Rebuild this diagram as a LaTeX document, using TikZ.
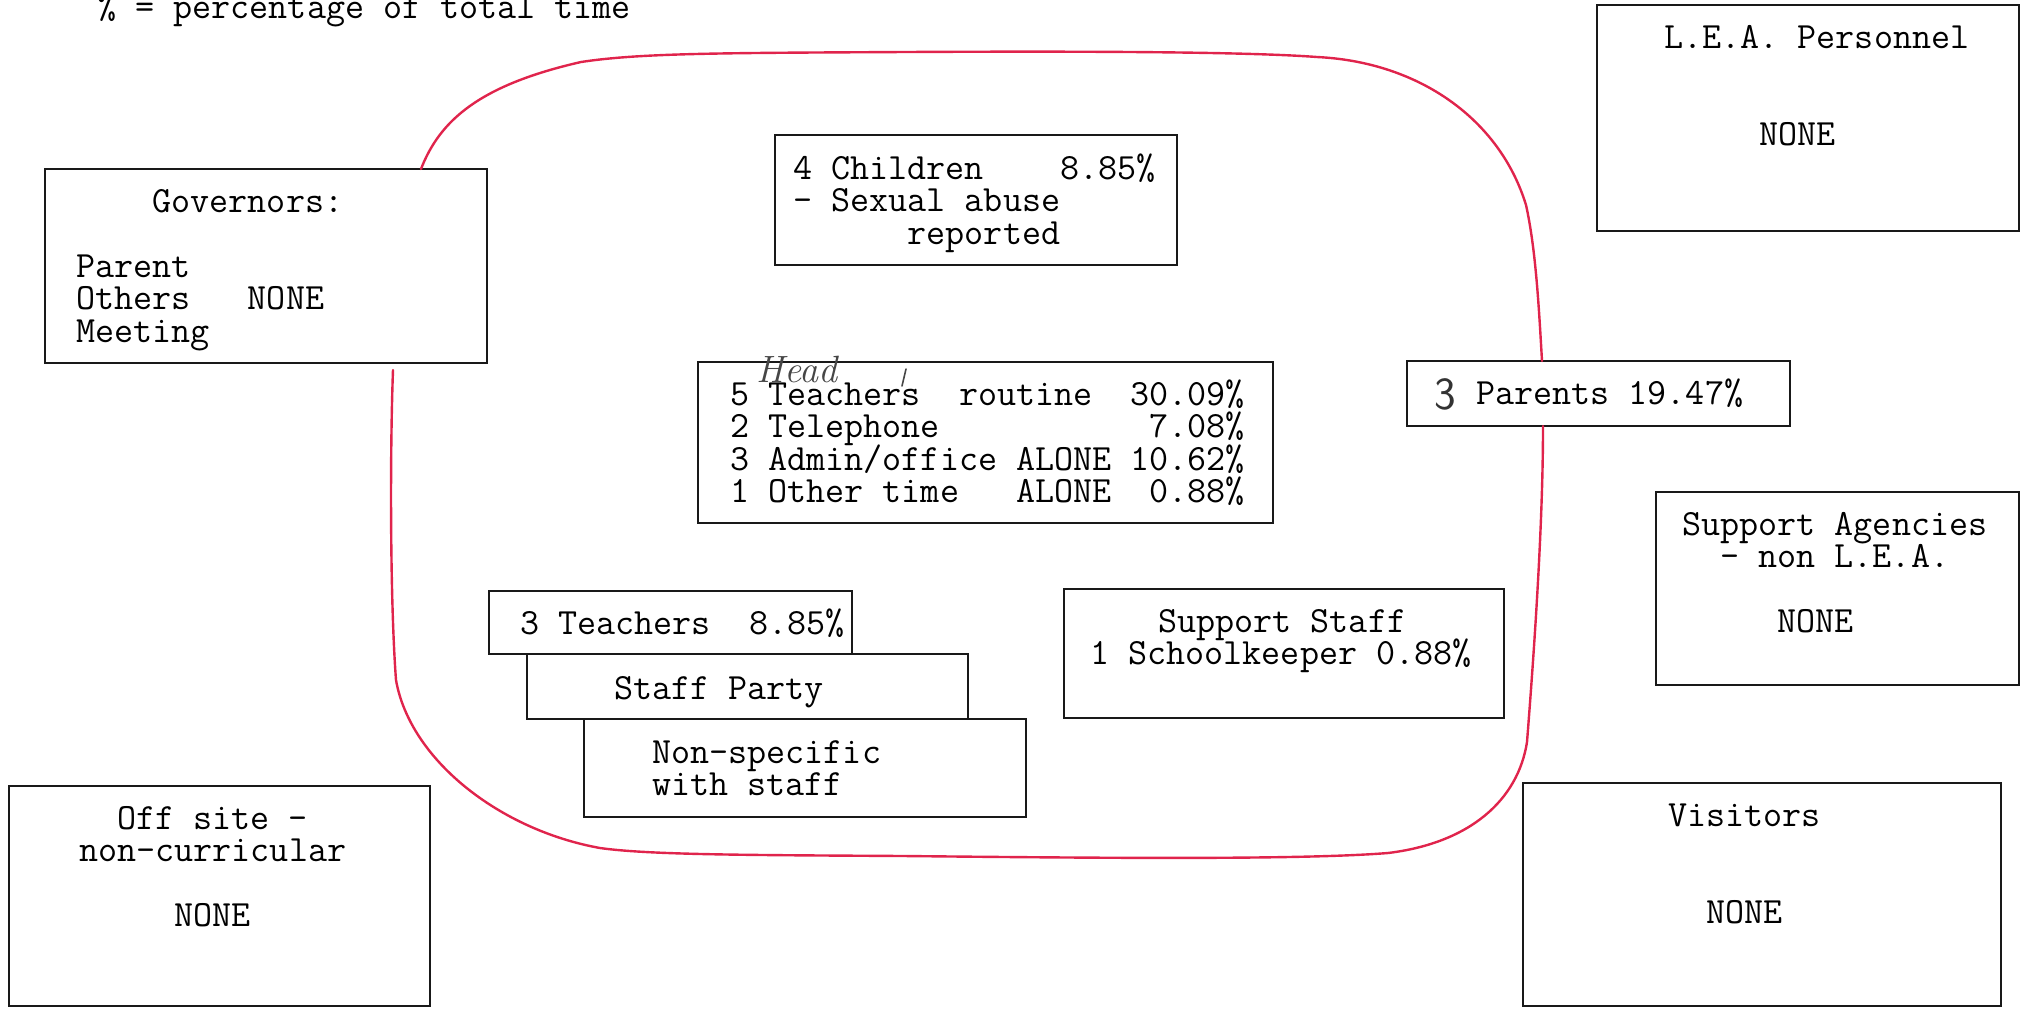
\documentclass[tikz,border=0pt]{standalone}
\usepackage{fontspec}
\usetikzlibrary{fit}
\definecolor{penred}{RGB}{224,36,76}
\definecolor{pencil}{RGB}{70,70,70}
\frenchspacing
% stacked typewriter lines with a fixed line pitch; the baseline is that of the first line
\newcommand\typelines[1]{\vtop{\lineskiplimit=-1000pt\lineskip=0pt\baselineskip=16.25pt #1}}
\begin{document}
\begin{tikzpicture}[x=0.5pt,y=-0.5pt,
  box/.style={draw=black!90, line width=1.2pt, inner sep=0pt},
  txt/.style={inner sep=0pt, anchor=base west, font=\ttfamily\fontsize{18.5}{16.25}\selectfont},
  hand/.style={inner sep=0pt, anchor=base west, text=pencil},
  redloop/.style={draw=penred, line width=1.2pt, line cap=round, line join=round}
]
\useasboundingbox (0,0) rectangle (2024,1009);

% key line
\node[txt] (key) at (97,18) {\% = percentage of total time};

% ---- boxes ----
\node[box, fit={(1597,5) (2019,231)}]    (lea) {};
\node[box, fit={(45,169) (487,363)}]     (gov) {};
\node[box, fit={(775,135) (1177,265)}]   (child) {};
\node[box, fit={(698,362) (1273,523)}]   (head) {};
\node[box, fit={(1407,361) (1790,426)}]  (par) {};
\node[box, fit={(1656,492) (2019,685)}]  (agency) {};
\node[box, fit={(489,591) (852,654)}]    (teach) {};
\node[box, fit={(527,654) (968,719)}]    (party) {};
\node[box, fit={(584,719) (1026,817)}]   (nonspec) {};
\node[box, fit={(1064,589) (1504,718)}]  (support) {};
\node[box, fit={(9,786) (430,1006)}]     (offsite) {};
\node[box, fit={(1523,783) (2001,1006)}] (visit) {};

% ---- texts ----
\node[txt] (lea-t) at (1664,48) {\typelines{%
  \hbox{L.E.A. Personnel}\hbox{}\hbox{}\hbox{~~~~~NONE}}};

\node[txt] (gov-t) at (76,212) {\typelines{%
  \hbox{~~~~Governors:}\hbox{}\hbox{Parent}\hbox{Others~~~NONE}\hbox{Meeting}}};

\node[txt] (child-t) at (793,179) {\typelines{%
  \hbox{4 Children~~~~8.85\%}\hbox{- Sexual abuse}\hbox{~~~~~~reported}}};

\node[txt] (head-t) at (730,405) {\typelines{%
  \hbox{5 Teachers~~routine~~30.09\%}
  \hbox{2 Telephone~~~~~~~~~~~7.08\%}
  \hbox{3 Admin/office ALONE 10.62\%}
  \hbox{1 Other time~~~ALONE~~0.88\%}}};
\node[hand, font=\itshape\fontsize{19}{19}\selectfont] (head-note) at (756,382) {Head};
\coordinate (tick-a) at (906,369);
\coordinate (tick-b) at (902,386);
\draw[pencil, line width=0.8pt, line cap=round] (tick-a) -- (tick-b);

\node[hand, text=black!80, font=\sffamily\fontsize{23}{23}\selectfont] (par-n) at (1434,409) {3};
\node[txt] (par-t) at (1476,404) {Parents 19.47\%};

\node[txt] (agency-t) at (1682,535) {\typelines{%
  \hbox{Support Agencies}\hbox{~~- non L.E.A.}\hbox{}\hbox{~~~~~NONE}}};

\node[txt] (teach-t) at (520,634) {3 Teachers~~8.85\%};
\node[txt] (party-t) at (614,699) {Staff Party};
\node[txt] (nonspec-t) at (652,763) {\typelines{%
  \hbox{Non-specific}\hbox{with staff}}};

\node[txt] (support-t) at (1090,632) {\typelines{%
  \hbox{\hspace*{34pt}Support Staff}\hbox{1 Schoolkeeper 0.88\%}}};

\node[txt] (offsite-t) at (79,829) {\typelines{%
  \hbox{~~Off site -}\hbox{non-curricular}\hbox{}\hbox{~~~~~NONE}}};

\node[txt] (visit-t) at (1668,826) {\typelines{%
  \hbox{Visitors}\hbox{}\hbox{}\hbox{~~NONE}}};

% ---- red freehand boundary, broken by the Governors and Parents boxes ----
\draw[redloop] (421,169)
  .. controls (440,120) and (480,85) .. (581,62)
  .. controls (640,53) and (720,53) .. (904,52)
  .. controls (1100,51) and (1250,52) .. (1317,57)
  .. controls (1420,62) and (1500,120) .. (1526,205)
  .. controls (1536,250) and (1539,310) .. (1542,361);
\draw[redloop] (1543,426)
  .. controls (1543,520) and (1535,640) .. (1527,742)
  .. controls (1518,800) and (1470,843) .. (1388,853)
  .. controls (1300,860) and (1100,858) .. (904,856)
  .. controls (750,855) and (650,855) .. (600,848)
  .. controls (500,830) and (410,760) .. (396,680)
  .. controls (390,600) and (390,450) .. (393,370);
\end{tikzpicture}
\end{document}
